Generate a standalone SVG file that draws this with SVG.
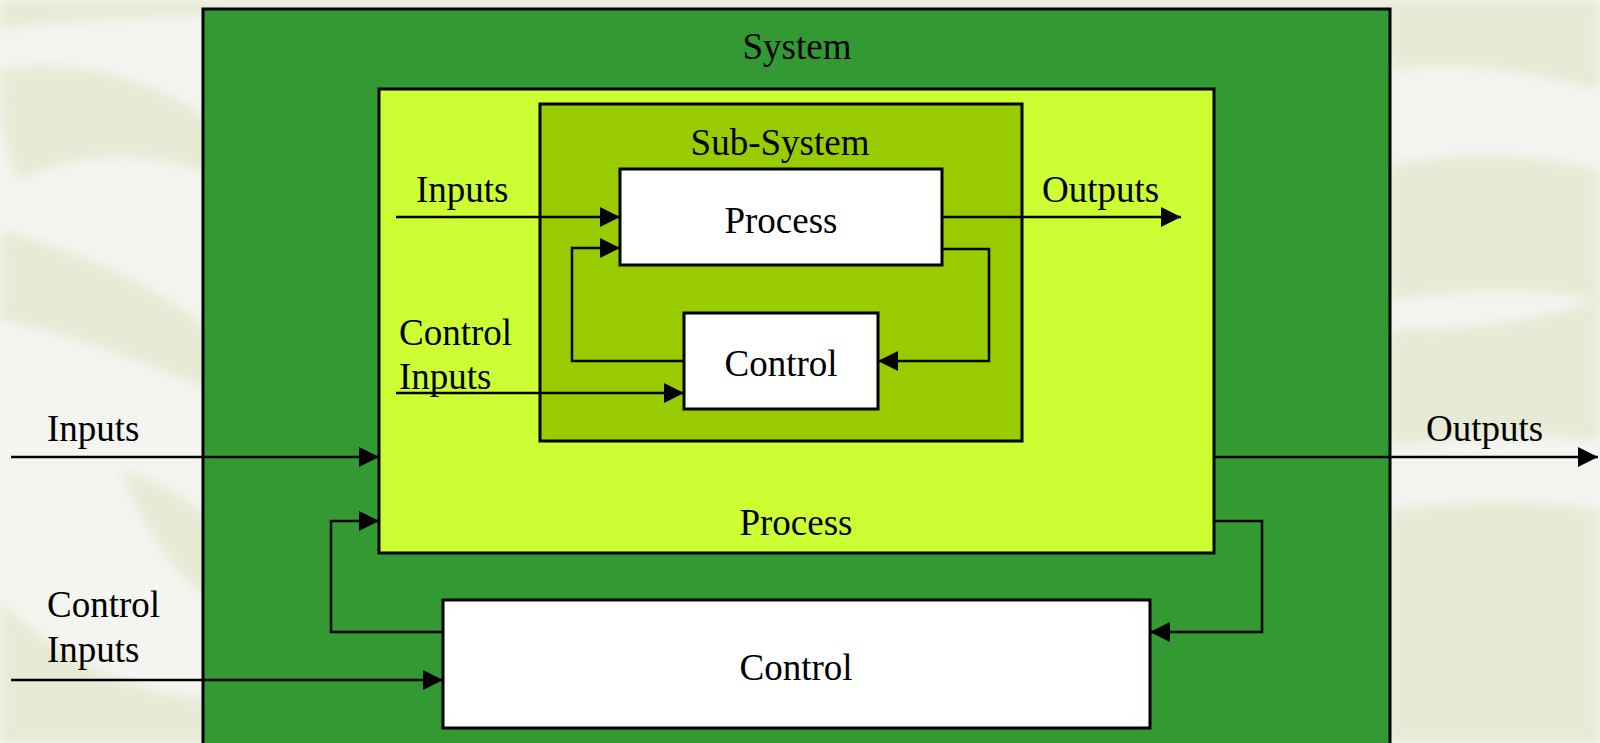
<svg xmlns="http://www.w3.org/2000/svg" width="1600" height="743" viewBox="0 0 1600 743">
  <defs>
    <marker id="arrow" viewBox="0 0 20 20" refX="20" refY="10" markerWidth="20" markerHeight="20" markerUnits="userSpaceOnUse" orient="auto">
      <path d="M0,0 L20,10 L0,20 Z" fill="#000"/>
    </marker>
    <filter id="soft" x="-10%" y="-10%" width="120%" height="120%">
      <feGaussianBlur stdDeviation="6"/>
    </filter>
  </defs>
  <style>
    .box { stroke: #000; stroke-width: 3; }
    .system { fill: #339933; }
    .process { fill: #ccff33; }
    .subsystem { fill: #99cc00; }
    .plain { fill: #ffffff; }
    .wire { fill: none; stroke: #000; stroke-width: 2.5; }
    .arr { marker-end: url(#arrow); }
    text { font-family: "Liberation Serif", "Times New Roman", serif; font-size: 37px; fill: #000; }
    .mid { text-anchor: middle; }
    .swoosh { fill: #e7ead4; }
  </style>

  <!-- paper background with pale swirling texture -->
  <rect width="1600" height="743" fill="#f4f4f1"/>
  <g filter="url(#soft)">
    <path class="swoosh" d="M0,0 H220 V14 C150,20 80,16 0,30 Z"/>
    <path class="swoosh" d="M0,70 C60,60 140,70 210,120 L210,175 C150,150 80,150 20,180 C0,150 0,100 0,70 Z"/>
    <path class="swoosh" d="M0,230 C70,250 150,280 210,330 L210,390 C140,360 60,330 0,320 Z"/>
    <path class="swoosh" d="M120,470 C160,480 190,500 210,520 L210,600 C180,580 150,540 120,470 Z"/>
    <path class="swoosh" d="M0,600 C40,640 100,690 210,700 L210,743 H0 Z"/>
    <path class="swoosh" d="M1390,0 H1600 V90 C1520,70 1450,60 1390,70 Z"/>
    <path class="swoosh" d="M1390,165 C1470,150 1540,155 1600,170 V300 C1520,285 1460,290 1390,300 Z"/>
    <path class="swoosh" d="M1390,330 C1470,330 1540,320 1600,300 V440 C1520,430 1460,440 1390,445 Z"/>
    <path class="swoosh" d="M1390,510 C1470,500 1540,500 1600,510 V743 H1390 Z"/>
    <path class="swoosh" d="M210,0 H1390 V12 H210 Z"/>
  </g>

  <!-- nested blocks -->
  <g id="system">
    <rect class="box system" x="203" y="9" width="1187" height="760"/>
    <text class="mid" x="797" y="59">System</text>
  </g>
  <g id="process">
    <rect class="box process" x="379" y="89" width="835" height="464"/>
    <text class="mid" x="796" y="535">Process</text>
  </g>
  <g id="sub-system">
    <rect class="box subsystem" x="540" y="104" width="482" height="337"/>
    <text class="mid" x="780" y="155">Sub-System</text>
  </g>
  <g id="sub-process">
    <rect class="box plain" x="620" y="169" width="322" height="96"/>
    <text class="mid" x="781" y="233">Process</text>
  </g>
  <g id="sub-control">
    <rect class="box plain" x="684" y="313" width="194" height="96"/>
    <text class="mid" x="781" y="376">Control</text>
  </g>
  <g id="control">
    <rect class="box plain" x="443" y="600" width="707" height="128"/>
    <text class="mid" x="796" y="680">Control</text>
  </g>

  <!-- flow labels -->
  <g id="labels">
    <text x="416" y="202">Inputs</text>
    <text x="1042" y="202">Outputs</text>
    <text x="399" y="345">Control</text>
    <text x="399" y="389">Inputs</text>
    <text x="47" y="441">Inputs</text>
    <text x="1426" y="441">Outputs</text>
    <text x="47" y="617">Control</text>
    <text x="47" y="662">Inputs</text>
  </g>

  <!-- connectors -->
  <g id="connectors">
    <path class="wire arr" d="M396,217 H620"/>
    <path class="wire arr" d="M684,361 H572 V248 H620"/>
    <path class="wire arr" d="M396,393 H684"/>
    <path class="wire arr" d="M942,217 H1181"/>
    <path class="wire arr" d="M942,249 H989 V361 H878"/>
    <path class="wire arr" d="M11,457 H379"/>
    <path class="wire arr" d="M443,632 H331 V521 H379"/>
    <path class="wire arr" d="M11,680 H443"/>
    <path class="wire arr" d="M1214,457 H1598"/>
    <path class="wire arr" d="M1214,521 H1262 V632 H1150"/>
  </g>
</svg>
